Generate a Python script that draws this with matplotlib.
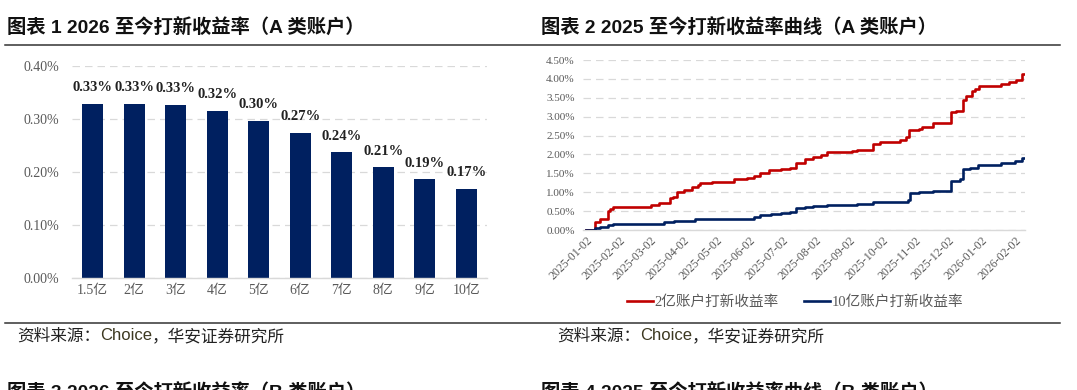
import matplotlib
matplotlib.use("Agg")
import matplotlib.pyplot as plt
import matplotlib.dates as mdates
from matplotlib.lines import Line2D
import pandas as pd

plt.rcParams['font.family'] = ['Liberation Serif', 'Noto Sans CJK SC']

# ---- left chart: 2026 YTD IPO return by account size (A accounts), %
sizes = ["1.5亿", "2亿", "3亿", "4亿", "5亿", "6亿", "7亿", "8亿", "9亿", "10亿"]
returns_2026 = [0.329, 0.329, 0.326, 0.316, 0.296, 0.274, 0.237, 0.209, 0.186, 0.168]

# ---- right chart: 2025 YTD cumulative IPO return curves, % (breakpoints of step curves)
red_dates = ["2025-01-02", "2025-01-10", "2025-01-15", "2025-01-22", "2025-01-24", "2025-01-27",
             "2025-03-03", "2025-03-10", "2025-03-20", "2025-03-23", "2025-03-27", "2025-04-02",
             "2025-04-10", "2025-04-15", "2025-04-17", "2025-04-28", "2025-05-18", "2025-05-30",
             "2025-06-06", "2025-06-11", "2025-06-20", "2025-07-01", "2025-07-09", "2025-07-15",
             "2025-07-23", "2025-07-30", "2025-08-07", "2025-08-12", "2025-09-04", "2025-09-09",
             "2025-09-24", "2025-09-30", "2025-10-19", "2025-10-24", "2025-10-27", "2025-11-05",
             "2025-11-08", "2025-11-18", "2025-12-05", "2025-12-09", "2025-12-16", "2025-12-19",
             "2025-12-24", "2025-12-27", "2025-12-31", "2026-01-20", "2026-01-27", "2026-02-03",
             "2026-02-08", "2026-02-11"]
red_vals = [0.00, 0.20, 0.30, 0.50, 0.55, 0.62,
            0.67, 0.72, 0.85, 0.88, 1.00, 1.05,
            1.15, 1.20, 1.25, 1.27, 1.35, 1.38,
            1.42, 1.52, 1.58, 1.61, 1.65, 1.77,
            1.88, 1.92, 1.98, 2.06, 2.08, 2.12,
            2.28, 2.34, 2.38, 2.45, 2.65, 2.68,
            2.72, 2.82, 3.12, 3.15, 3.45, 3.55,
            3.67, 3.72, 3.82, 3.86, 3.92, 3.96,
            4.12, 4.12]

blue_dates = ["2025-01-02", "2025-01-10", "2025-01-15", "2025-01-22", "2025-01-27", "2025-03-03",
              "2025-03-15", "2025-03-24", "2025-04-05", "2025-04-12", "2025-04-26", "2025-06-06",
              "2025-06-11", "2025-06-22", "2025-07-01", "2025-07-09", "2025-07-15", "2025-07-23",
              "2025-07-30", "2025-08-12", "2025-09-09", "2025-09-24", "2025-10-26", "2025-10-28",
              "2025-11-05", "2025-11-18", "2025-12-05", "2025-12-13", "2025-12-16", "2025-12-22",
              "2025-12-30", "2026-01-20", "2026-02-02", "2026-02-08", "2026-02-11"]
blue_vals = [0.00, 0.05, 0.08, 0.12, 0.15, 0.17,
             0.20, 0.23, 0.25, 0.28, 0.30, 0.35,
             0.40, 0.42, 0.45, 0.48, 0.58, 0.60,
             0.63, 0.65, 0.68, 0.75, 0.80, 0.97,
             1.00, 1.03, 1.30, 1.35, 1.62, 1.65,
             1.72, 1.78, 1.82, 1.90, 1.90]

W, H = 1077, 390
def fx(x):
    return x / W
def fy(y):
    return 1 - y / H

navy = "#002060"
red = "#C00000"
gray = "#595959"
grid_c = "#D9D9D9"
cjk_sans = ['Liberation Sans', 'Noto Sans CJK SC']

fig = plt.figure(figsize=(10.77, 3.9), dpi=100)

# titles
fig.text(fx(7), fy(28), "图表 1 2026 至今打新收益率（A 类账户）", family=cjk_sans,
         fontsize=13.9, fontweight='bold', va='center', ha='left', color='#111111')
fig.text(fx(541), fy(28), "图表 2 2025 至今打新收益率曲线（A 类账户）", family=cjk_sans,
         fontsize=13.9, fontweight='bold', va='center', ha='left', color='#111111')

# separator lines
for yy in (44.5, 323):
    fig.add_artist(Line2D([fx(5), fx(1060)], [fy(yy), fy(yy)], color='#333333', lw=1.1))

# source notes
for x0 in (17, 557):
    t1 = fig.text(fx(x0), fy(336), "资料来源：", family=cjk_sans, fontsize=12,
                  va='center', ha='left', color='#222222')
    fig.canvas.draw()
    bb = t1.get_window_extent()
    t2 = fig.text(bb.x1 / W, fy(336), "Choice", family=cjk_sans, fontsize=12,
                  va='center', ha='left', color='#3C3820')
    bb2 = t2.get_window_extent(renderer=fig.canvas.get_renderer())
    fig.text(bb2.x1 / W, fy(336), "，华安证券研究所", family=cjk_sans, fontsize=12,
             va='center', ha='left', color='#222222')

# next-figure titles, cut by the page edge
fig.text(fx(7), fy(384), "图表 3 2026 至今打新收益率（B 类账户）", family=cjk_sans,
         fontsize=13.9, fontweight='bold', va='top', ha='left', color='#111111')
fig.text(fx(541), fy(384), "图表 4 2025 至今打新收益率曲线（B 类账户）", family=cjk_sans,
         fontsize=13.9, fontweight='bold', va='top', ha='left', color='#111111')

# ---------------- left bar chart
ax1 = fig.add_axes([fx(72), fy(278), fx(487) - fx(72), fy(66) - fy(278)])
xpos = range(len(sizes))
bars = ax1.bar(xpos, returns_2026, width=0.5, color=navy, zorder=3)
for b, v in zip(bars, returns_2026):
    ax1.annotate(f"{v:.2f}%", (b.get_x() + b.get_width() / 2, v), xytext=(0, 7),
                 textcoords='offset points', ha='center', va='bottom',
                 fontsize=10.5, fontweight='bold', color='#222222', annotation_clip=False)
ax1.set_xlim(-0.5, len(sizes) - 0.5)
ax1.set_ylim(0, 0.40)
ax1.set_yticks([0, 0.1, 0.2, 0.3, 0.4])
ax1.set_yticklabels([f"{t:.2f}%" for t in [0, 0.1, 0.2, 0.3, 0.4]])
ax1.set_xticks(list(xpos))
ax1.set_xticklabels(sizes)
ax1.tick_params(axis='y', length=0, pad=9, labelsize=10, labelcolor=gray)
ax1.tick_params(axis='x', length=0, pad=4, labelsize=10, labelcolor=gray)
ax1.grid(axis='y', color=grid_c, linestyle=(0, (6, 4)), lw=0.9, zorder=0)
for s in ('top', 'right', 'left'):
    ax1.spines[s].set_visible(False)
ax1.spines['bottom'].set_color(grid_c)
ax1.spines['bottom'].set_linewidth(1.0)
ax1.spines['bottom'].set_zorder(4)

# ---------------- right line chart
ax2 = fig.add_axes([fx(583), fy(230), fx(1025) - fx(583), fy(60) - fy(230)])
rd = pd.to_datetime(red_dates)
bd = pd.to_datetime(blue_dates)
ax2.plot(rd, red_vals, drawstyle='steps-post', color=red, lw=1.9, label="2亿账户打新收益率", zorder=3)
ax2.plot(bd, blue_vals, drawstyle='steps-post', color=navy, lw=1.9, label="10亿账户打新收益率", zorder=3)
ax2.set_xlim(pd.Timestamp("2024-12-30"), pd.Timestamp("2026-02-11"))
ax2.set_ylim(0, 4.5)
yt = [0.5 * i for i in range(10)]
ax2.set_yticks(yt)
ax2.set_yticklabels([f"{t:.2f}%" for t in yt])
ax2.xaxis.set_major_locator(mdates.MonthLocator(bymonthday=2))
ax2.xaxis.set_major_formatter(mdates.DateFormatter('%Y-%m-%d'))
ax2.tick_params(axis='y', length=0, pad=6, labelsize=8, labelcolor=gray)
ax2.tick_params(axis='x', length=0, pad=3, labelsize=8.6, labelcolor=gray)
for lab in ax2.get_xticklabels():
    lab.set_rotation(45)
    lab.set_ha('right')
    lab.set_rotation_mode('anchor')
ax2.grid(axis='y', color=grid_c, linestyle=(0, (6, 4)), lw=0.9, zorder=0)
for s in ('top', 'right', 'left'):
    ax2.spines[s].set_visible(False)
ax2.spines['bottom'].set_color(grid_c)
ax2.spines['bottom'].set_linewidth(1.0)

fig.legend(loc='center', bbox_to_anchor=(fx(795), fy(302)), ncol=2, frameon=False,
           handlelength=1.8, handletextpad=0.1, columnspacing=1.7,
           labelcolor=gray, prop={'family': ['Liberation Serif', 'Noto Sans CJK SC'], 'size': 10.5})

fig.savefig("out.png", dpi=100)
